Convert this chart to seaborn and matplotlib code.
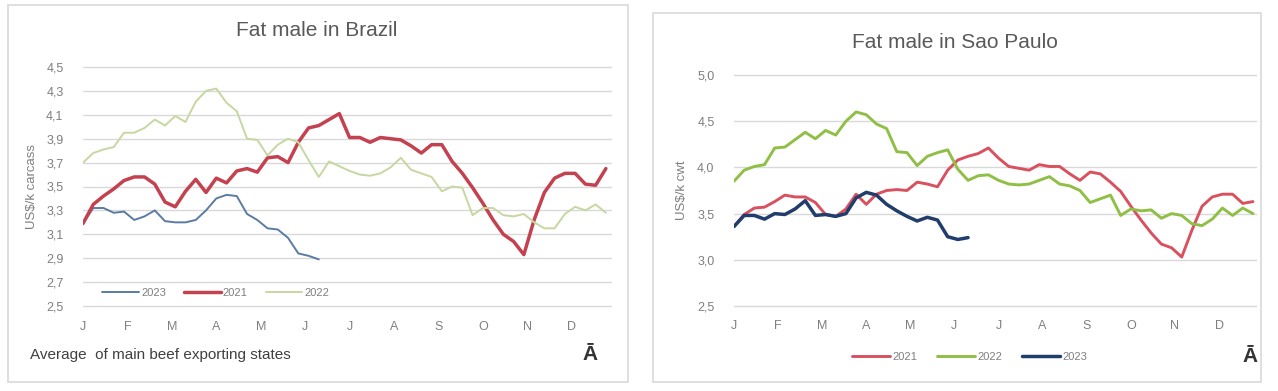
import numpy as np
import pandas as pd
import matplotlib
matplotlib.use("Agg")
import matplotlib.pyplot as plt
from matplotlib.patches import Rectangle
import seaborn as sns

# ---------------- data ----------------
months = ["J", "F", "M", "A", "M", "J", "J", "A", "S", "O", "N", "D"]

# Brazil (US$/k carcass), weekly
brazil_2021 = [3.19, 3.35, 3.42, 3.48, 3.55, 3.58, 3.58, 3.52, 3.37, 3.33,
               3.46, 3.56, 3.45, 3.57, 3.53, 3.63, 3.65, 3.62, 3.74, 3.75,
               3.70, 3.87, 3.99, 4.01, 4.06, 4.11, 3.91, 3.91, 3.87, 3.91,
               3.90, 3.89, 3.84, 3.78, 3.85, 3.85, 3.71, 3.61, 3.49, 3.36,
               3.22, 3.10, 3.04, 2.93, 3.22, 3.45, 3.57, 3.61, 3.61, 3.52,
               3.51, 3.65]
brazil_2022 = [3.70, 3.78, 3.81, 3.83, 3.95, 3.95, 3.99, 4.06, 4.01, 4.09,
               4.04, 4.21, 4.30, 4.32, 4.20, 4.13, 3.90, 3.89, 3.76, 3.85,
               3.90, 3.87, 3.72, 3.58, 3.71, 3.67, 3.63, 3.60, 3.59, 3.61,
               3.66, 3.74, 3.64, 3.61, 3.58, 3.46, 3.50, 3.49, 3.26, 3.32,
               3.32, 3.26, 3.25, 3.27, 3.20, 3.15, 3.15, 3.27, 3.33, 3.30,
               3.35, 3.28]
brazil_2023 = [3.19, 3.32, 3.32, 3.28, 3.29, 3.22, 3.25, 3.30, 3.21, 3.20,
               3.20, 3.22, 3.30, 3.40, 3.43, 3.42, 3.27, 3.22, 3.15, 3.14,
               3.07, 2.94, 2.92, 2.89]

# Sao Paulo (US$/k cwt), weekly
sp_2021 = [3.36, 3.49, 3.56, 3.57, 3.63, 3.70, 3.68, 3.68, 3.62, 3.49,
           3.47, 3.55, 3.71, 3.60, 3.71, 3.75, 3.76, 3.75, 3.84, 3.82,
           3.79, 3.97, 4.08, 4.12, 4.15, 4.21, 4.10, 4.01, 3.99, 3.97,
           4.03, 4.01, 4.01, 3.93, 3.86, 3.95, 3.93, 3.84, 3.74, 3.58,
           3.43, 3.29, 3.17, 3.13, 3.03, 3.32, 3.58, 3.68, 3.71, 3.71,
           3.61, 3.63]
sp_2022 = [3.85, 3.97, 4.01, 4.03, 4.21, 4.22, 4.30, 4.38, 4.31, 4.40,
           4.35, 4.50, 4.60, 4.57, 4.47, 4.42, 4.17, 4.16, 4.02, 4.12,
           4.16, 4.19, 3.98, 3.86, 3.91, 3.92, 3.86, 3.82, 3.81, 3.82,
           3.86, 3.90, 3.82, 3.80, 3.75, 3.62, 3.66, 3.70, 3.48, 3.55,
           3.53, 3.54, 3.45, 3.50, 3.48, 3.39, 3.37, 3.44, 3.56, 3.48,
           3.56, 3.50]
sp_2023 = [3.36, 3.48, 3.48, 3.44, 3.50, 3.49, 3.55, 3.64, 3.48, 3.49,
           3.47, 3.50, 3.67, 3.73, 3.70, 3.60, 3.53, 3.47, 3.42, 3.46,
           3.43, 3.25, 3.22, 3.24]

left_ticks = ["4,5", "4,3", "4,1", "3,9", "3,7", "3,5", "3,3", "3,1", "2,9", "2,7", "2,5"]
right_ticks = ["5,0", "4,5", "4,0", "3,5", "3,0", "2,5"]

# ---------------- style ----------------
sns.set_style("white")
plt.rcParams["font.family"] = ["Liberation Sans Narrow", "Liberation Sans", "DejaVu Sans"]

W, H = 1278, 391
fig = plt.figure(figsize=(W / 100, H / 100), dpi=100)
fig.patch.set_facecolor("white")

def fx(px):
    return px / W

def fy(py):
    return 1 - py / H

# panel borders
for (x0, y0, x1, y1) in [(8, 5, 628, 382), (653, 13, 1261, 382)]:
    fig.patches.append(Rectangle((fx(x0), fy(y1)), fx(x1 - x0), (y1 - y0) / H,
                                 transform=fig.transFigure, fill=False,
                                 edgecolor="#d9d9d9", linewidth=1.2))

grid_c = "#d9d9d9"
tick_c = "#7f7f7f"
month_pos = [i * 52 / 12 for i in range(12)]

def weeks(vals):
    return np.arange(len(vals))

# ---------------- left: Brazil ----------------
axL = fig.add_axes([fx(83), fy(306), fx(611 - 83), (306 - 67) / H])
sns.lineplot(x=weeks(brazil_2023), y=brazil_2023, ax=axL, color="#5a7ca3", linewidth=1.4, label="2023")
sns.lineplot(x=weeks(brazil_2021), y=brazil_2021, ax=axL, color="#c4414f", linewidth=2.5, label="2021")
sns.lineplot(x=weeks(brazil_2022), y=brazil_2022, ax=axL, color="#c6d7a1", linewidth=1.4, label="2022")
axL.set_xlim(0, 51.5)
axL.set_ylim(2.5, 4.5)
yv = [float(t.replace(",", ".")) for t in left_ticks]
axL.set_yticks(yv)
axL.set_yticklabels(left_ticks)
axL.set_xticks(month_pos)
axL.set_xticklabels(months)
axL.yaxis.grid(True, color=grid_c, linewidth=1.0)
axL.xaxis.grid(False)
for gl in axL.get_ygridlines():
    gl.set_clip_on(False)
for s in axL.spines.values():
    s.set_visible(False)
axL.tick_params(axis="both", length=0, colors=tick_c, labelsize=9)
axL.tick_params(axis="x", pad=11)
axL.tick_params(axis="y", pad=14)
axL.set_ylabel("US$/k carcass", color=tick_c, fontsize=9.5)
axL.yaxis.set_label_coords(fx(38 - 83) / fx(611 - 83), 0.5)
axL.set_xlabel("")
leg = axL.legend(ncol=3, loc="center left", bbox_to_anchor=(fx(98 - 83) / fx(611 - 83), (306 - 293) / (306 - 67)),
                 frameon=False, fontsize=8, handlelength=3.3, handletextpad=0.2,
                 columnspacing=1.6, borderaxespad=0)
for t in leg.get_texts():
    t.set_color(tick_c)
fig.text(fx(317), fy(30), "Fat male in Brazil", ha="center", va="center", fontsize=15, color="#595959")
fig.text(fx(30), fy(355), "Average  of main beef exporting states", ha="left", va="center", fontsize=11, color="#404040")
fig.text(fx(590), fy(355), "Ā", ha="center", va="center", fontsize=15, fontweight="bold", color="#333333")

# ---------------- right: Sao Paulo ----------------
axR = fig.add_axes([fx(734), fy(306), fx(1256 - 734), (306 - 75) / H])
sns.lineplot(x=weeks(sp_2021), y=sp_2021, ax=axR, color="#d9505f", linewidth=2.1, label="2021")
sns.lineplot(x=weeks(sp_2022), y=sp_2022, ax=axR, color="#8fbf45", linewidth=2.1, label="2022")
sns.lineplot(x=weeks(sp_2023), y=sp_2023, ax=axR, color="#203d6b", linewidth=2.5, label="2023")
axR.set_xlim(0, 51.3)
axR.set_ylim(2.5, 5.0)
yv = [float(t.replace(",", ".")) for t in right_ticks]
axR.set_yticks(yv)
axR.set_yticklabels(right_ticks)
axR.set_xticks(month_pos)
axR.set_xticklabels(months)
axR.yaxis.grid(True, color=grid_c, linewidth=1.0)
axR.xaxis.grid(False)
for gl in axR.get_ygridlines():
    gl.set_clip_on(False)
for k, s in axR.spines.items():
    s.set_visible(k == "bottom")
axR.spines["bottom"].set_color(grid_c)
axR.tick_params(axis="y", length=0, colors=tick_c, labelsize=9, pad=14)
axR.tick_params(axis="x", length=5, width=1, color=grid_c, labelcolor=tick_c, labelsize=9, pad=5, direction="out")
axR.set_ylabel("US$/k cwt", color=tick_c, fontsize=9.5)
axR.yaxis.set_label_coords(fx(688 - 734) / fx(1256 - 734), 0.5)
axR.set_xlabel("")
leg = axR.legend(ncol=3, loc="center left", bbox_to_anchor=(fx(848 - 734) / fx(1256 - 734), -(357 - 306) / (306 - 75)),
                 frameon=False, fontsize=8, handlelength=3.4, handletextpad=0.2,
                 columnspacing=1.8, borderaxespad=0)
for t in leg.get_texts():
    t.set_color(tick_c)
fig.text(fx(955), fy(42), "Fat male in Sao Paulo", ha="center", va="center", fontsize=15, color="#595959")
fig.text(fx(1250), fy(357), "Ā", ha="center", va="center", fontsize=15, fontweight="bold", color="#333333")

fig.savefig("out.png", dpi=100, facecolor="white")
